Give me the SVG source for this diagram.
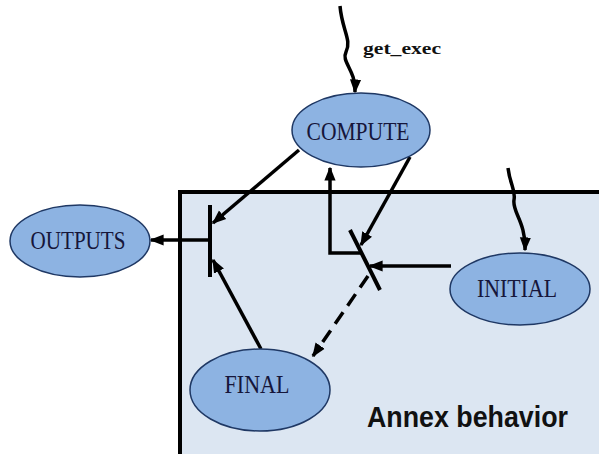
<svg xmlns="http://www.w3.org/2000/svg" width="599" height="454" viewBox="0 0 599 454">
<style>
.node ellipse{fill:#8db3e2;stroke:#1f3864;stroke-width:1.5}
.node text{font-family:"Liberation Serif","Times New Roman",serif;font-size:25px;fill:#16163a;text-anchor:middle}
.conn line,.conn path,.conn polyline{stroke:#000;stroke-width:3.5;fill:none}
.bar{stroke:#000;stroke-width:4}
</style>
<defs>
<marker id="ah" viewBox="0 0 10 10" refX="9" refY="5" markerWidth="4" markerHeight="4" orient="auto" markerUnits="strokeWidth">
<path d="M0,1 L10,5 L0,9 Z" fill="#000"/>
</marker>
</defs>
<rect width="599" height="454" fill="#fff"/>
<g id="annex">
<path d="M180,454 V192 H599" fill="#dce6f2" stroke="#000" stroke-width="4"/>
<rect x="182" y="194" width="417" height="260" fill="#dce6f2"/>
<text x="367" y="427" font-family="'Liberation Sans',Arial,sans-serif" font-weight="bold" font-size="30" textLength="201" lengthAdjust="spacingAndGlyphs" fill="#111">Annex behavior</text>
</g>
<g id="bars">
<line class="bar" x1="210" y1="205" x2="210" y2="277"/>
<line class="bar" x1="350" y1="230" x2="380" y2="290"/>
</g>
<g class="conn" id="connectors">
<path d="M340,6 C342,30 352,40 346,52 C341,62 356,70 355,92" stroke-width="2.5" marker-end="url(#ah)"/>
<path d="M508,168 C510,185 516,190 514,200 C512,212 526,222 525,250" stroke-width="2.5" marker-end="url(#ah)"/>
<line x1="210" y1="240" x2="151" y2="240" marker-end="url(#ah)"/>
<line x1="299" y1="150" x2="213" y2="223" marker-end="url(#ah)"/>
<line x1="261" y1="349" x2="213" y2="260" marker-end="url(#ah)"/>
<line x1="451" y1="266" x2="370" y2="266" marker-end="url(#ah)"/>
<line x1="410" y1="157" x2="361" y2="245" marker-end="url(#ah)"/>
<polyline points="362,253 330,253 330,168" marker-end="url(#ah)"/>
<line x1="368" y1="276" x2="313" y2="356" stroke-dasharray="14,8" marker-end="url(#ah)"/>
</g>
<g id="compute" class="node"><ellipse cx="361" cy="130" rx="69" ry="37"/><text x="358" y="140" textLength="103" lengthAdjust="spacingAndGlyphs">COMPUTE</text></g>
<g id="outputs" class="node"><ellipse cx="80" cy="241" rx="70" ry="36"/><text x="78" y="249" textLength="95" lengthAdjust="spacingAndGlyphs">OUTPUTS</text></g>
<g id="initial" class="node"><ellipse cx="520" cy="289" rx="70" ry="36"/><text x="517" y="297" textLength="80" lengthAdjust="spacingAndGlyphs">INITIAL</text></g>
<g id="final" class="node"><ellipse cx="260" cy="390" rx="70" ry="41"/><text x="257" y="393" textLength="65" lengthAdjust="spacingAndGlyphs">FINAL</text></g>
<text x="363" y="54" font-family="'Liberation Serif','Times New Roman',serif" font-weight="bold" font-size="17" textLength="78" lengthAdjust="spacingAndGlyphs" fill="#111">get_exec</text>
</svg>
